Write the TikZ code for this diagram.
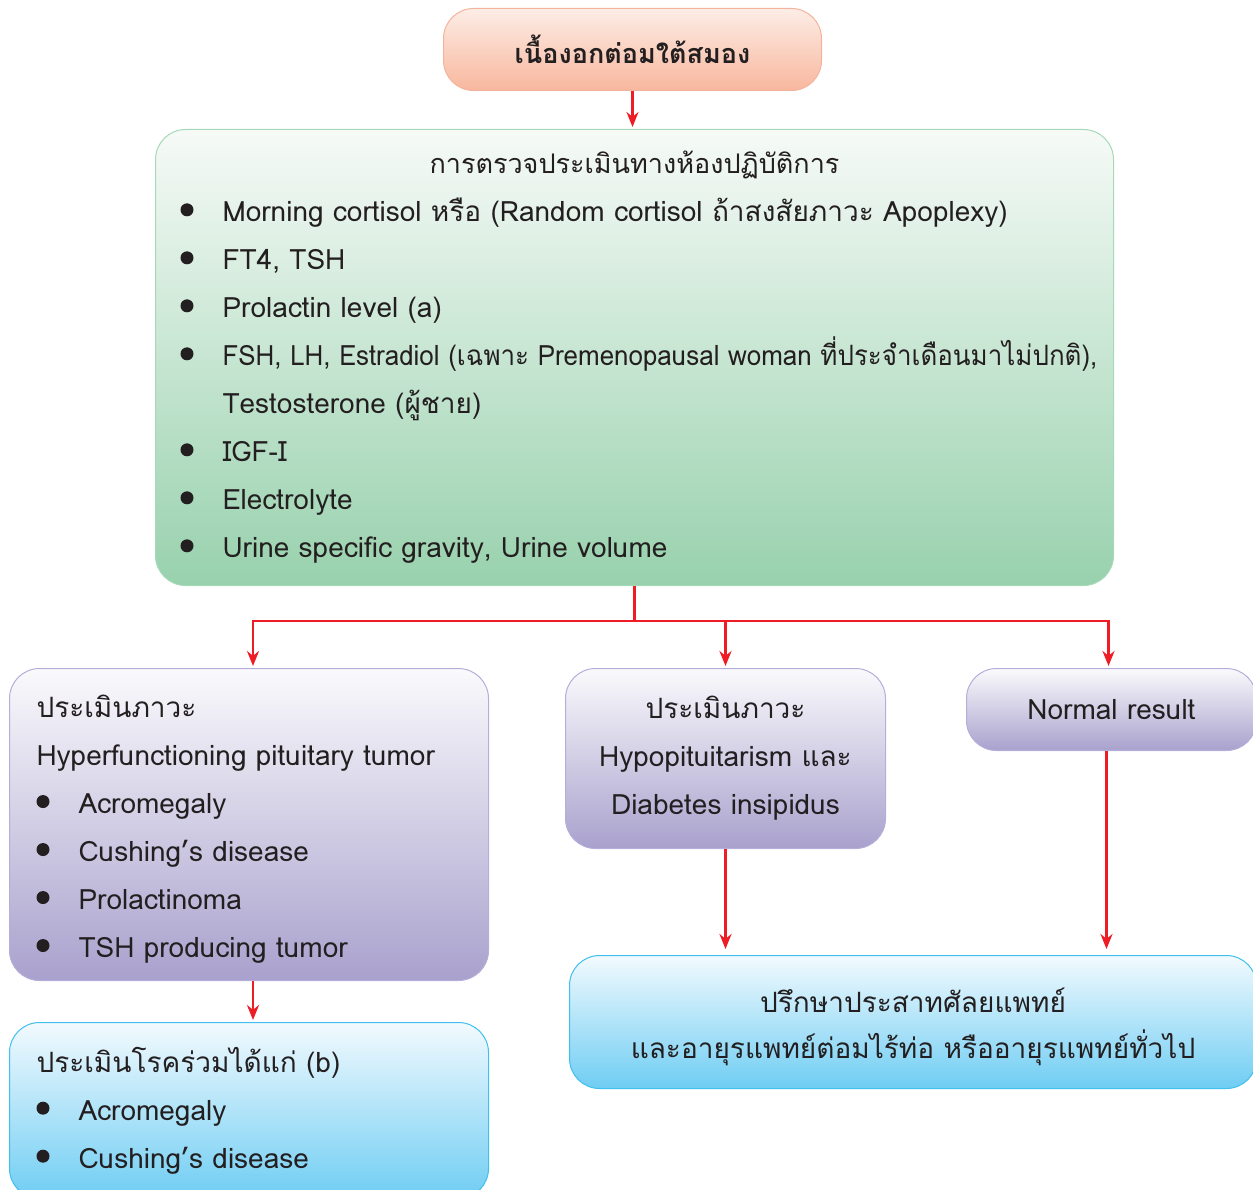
\documentclass[tikz,border=0pt]{standalone}
\usepackage{fontspec}
\setmainfont[Script=Thai]{Loma}
\usepackage{graphicx}
\usepackage{tikz}
\usetikzlibrary{arrows.meta,positioning}

\definecolor{ink}{HTML}{231F20}
\definecolor{arrowred}{HTML}{EE1C25}
\newcommand{\dotmark}{\tikz[baseline=-12pt]\fill[ink] (0,0) circle (6.5pt);}
\newcommand{\bitem}[1]{\makebox[42pt][l]{\dotmark}#1}

\tikzset{
  box/.style={draw, line width=1pt, rounded corners=30pt, anchor=north west, text=ink,
    font=\fontsize{28}{48}\selectfont},
  pinkbox/.style={box, draw=Salmon, top color=PinkTop, bottom color=PinkBot},
  greenbox/.style={box, draw=GreenLine, top color=GreenTop, bottom color=GreenBot},
  purplebox/.style={box, draw=PurpleLine, top color=PurpleTop, bottom color=PurpleBot},
  bluebox/.style={box, draw=BlueLine, top color=BlueTop, bottom color=BlueBot},
  flow/.style={draw=arrowred, line width=2.6pt},
  arr/.style={flow, -{Stealth[length=15pt,width=12pt]}, shorten >=2pt}
}
\definecolor{Salmon}{HTML}{F4B39C}
\definecolor{PinkTop}{HTML}{FDEDE6}
\definecolor{PinkBot}{HTML}{F8B79E}
\definecolor{GreenLine}{HTML}{A6D9B8}
\definecolor{GreenTop}{HTML}{F6FAF7}
\definecolor{GreenBot}{HTML}{98D1AD}
\definecolor{PurpleLine}{HTML}{B4AEDA}
\definecolor{PurpleTop}{HTML}{FAFAFC}
\definecolor{PurpleBot}{HTML}{A9A1CD}
\definecolor{BlueLine}{HTML}{3FC0EE}
\definecolor{BlueTop}{HTML}{F2FAFE}
\definecolor{BlueBot}{HTML}{6FCDF3}

\begin{document}
\begin{tikzpicture}[x=1pt, y=-1pt]
  \useasboundingbox (0,0) rectangle (1253,1190);
  \clip (0,0) rectangle (1253,1190);

  % tumour
  \node[pinkbox, minimum width=378pt, minimum height=82pt,
        font=\fontsize{27}{36}\selectfont\bfseries] (tumor) at (443,8) {เนื้องอกต่อมใต้สมอง};

  % laboratory work-up
  \node[greenbox, minimum width=958pt, minimum height=456pt, text width=908pt,
        inner xsep=25pt, align=left] (lab) at (155,129) {%
    \makebox[\linewidth]{\fontsize{27}{48}\selectfont การตรวจประเมินทางห้องปฏิบัติการ}\\
    \bitem{Morning cortisol หรือ (Random cortisol ถ้าสงสัยภาวะ Apoplexy)}\\
    \bitem{FT4, TSH}\\
    \bitem{Prolactin level (a)}\\
    \bitem{\resizebox{875pt}{\height}{FSH, LH, Estradiol (เฉพาะ Premenopausal woman ที่ประจำเดือนมาไม่ปกติ),}}\\
    \hspace*{42pt}Testosterone (ผู้ชาย)\\
    \bitem{IGF-I}\\
    \bitem{Electrolyte}\\
    \bitem{Urine specific gravity, Urine volume}};

  % results
  \node[purplebox, minimum width=479pt, minimum height=312pt, text width=425pt,
        inner xsep=27pt, align=left] (hyper) at (9,668) {%
    \rule{0pt}{32pt}ประเมินภาวะ\\
    Hyperfunctioning pituitary tumor\\
    \bitem{Acromegaly}\\
    \bitem{Cushing’s disease}\\
    \bitem{Prolactinoma}\\
    \bitem{TSH producing tumor}};
  \node[purplebox, minimum width=320pt, minimum height=180pt, align=center] (hypo) at (565,668) {%
    ประเมินภาวะ\\
    Hypopituitarism และ\\
    Diabetes insipidus};
  \node[purplebox, minimum width=290pt, minimum height=82pt] (normal) at (966,668) {Normal result};

  % follow-up
  \node[bluebox, minimum width=479pt, minimum height=176pt, text width=425pt,
        inner xsep=27pt, align=left] (comorb) at (9,1022) {%
    ประเมินโรคร่วมได้แก่ (b)\\
    \bitem{Acromegaly}\\
    \bitem{Cushing’s disease}};
  \node[bluebox, minimum width=687pt, minimum height=133pt, text width=647pt, align=center,
        font=\fontsize{28}{46}\selectfont] (consult) at (569,955) {%
    \rule{0pt}{34pt}ปรึกษาประสาทศัลยแพทย์\\
    และอายุรแพทย์ต่อมไร้ท่อ หรืออายุรแพทย์ทั่วไป};

  % connectors
  \draw[arr] (tumor.south) -- (tumor.south |- lab.north);
  \draw[flow] (lab.south) -- ++(0,35) coordinate (split);
  \draw[arr] (split) -| ([xshift=4pt]hyper.north);
  \draw[arr] (split) -| ([xshift=-3pt]normal.north);
  \draw[arr] (hypo.north |- split) -- (hypo.north);
  \draw[arr] ([xshift=4pt]hyper.south) -- ([xshift=4pt]comorb.north);
  \draw[arr, shorten >=6pt] (hypo.south) -- (hypo.south |- consult.north);
  \draw[arr, shorten >=6pt] ([xshift=-5pt]normal.south) -- ([xshift=-5pt]normal.south |- consult.north);
\end{tikzpicture}
\end{document}
